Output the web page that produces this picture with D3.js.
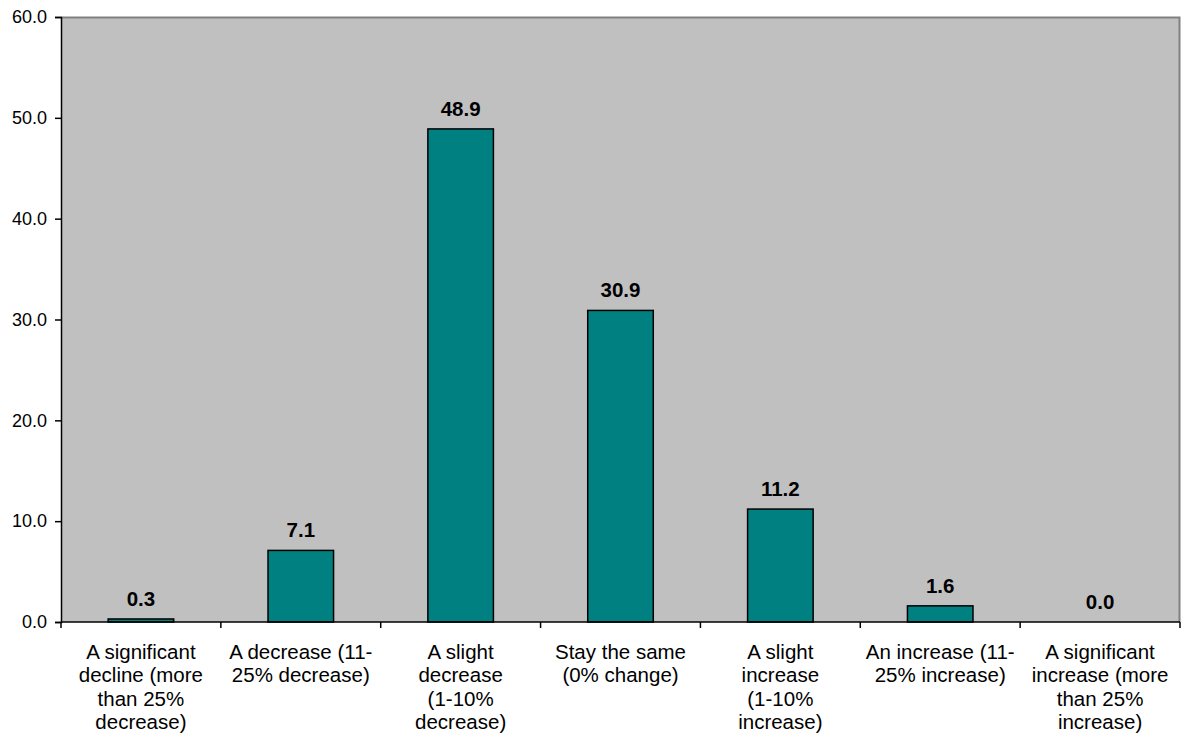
<!DOCTYPE html>
<html>
<head>
<meta charset="utf-8">
<script src="https://cdn.jsdelivr.net/npm/d3@7"></script>
<style>
  html, body { margin: 0; padding: 0; background: #ffffff; }
  svg { display: block; font-family: "Liberation Sans", Arial, sans-serif; }
</style>
</head>
<body>
<svg id="chart" width="1182" height="736"></svg>
<script>
// Expected change, percent of respondents
const categories = [
  "A significant decline (more than 25% decrease)",
  "A decrease (11-25% decrease)",
  "A slight decrease (1-10% decrease)",
  "Stay the same (0% change)",
  "A slight increase (1-10% increase)",
  "An increase (11-25% increase)",
  "A significant increase (more than 25% increase)"
];
const categoryLines = [
  ["A significant", "decline (more", "than 25%", "decrease)"],
  ["A decrease (11-", "25% decrease)"],
  ["A slight", "decrease", "(1-10%", "decrease)"],
  ["Stay the same", "(0% change)"],
  ["A slight", "increase", "(1-10%", "increase)"],
  ["An increase (11-", "25% increase)"],
  ["A significant", "increase (more", "than 25%", "increase)"]
];
const values = [0.3, 7.1, 48.9, 30.9, 11.2, 1.6, 0.0];
const yTicks = [0, 10, 20, 30, 40, 50, 60];

const svg = d3.select("#chart");
const plot = { left: 61, top: 17, right: 1180, bottom: 622 };

const x = d3.scaleBand()
  .domain(categories)
  .range([plot.left, plot.right])
  .paddingInner(0.59)
  .paddingOuter(0.295);

const xOuter = d3.scaleBand()
  .domain(categories)
  .range([plot.left, plot.right]);

const y = d3.scaleLinear()
  .domain([0, 60])
  .range([plot.bottom, plot.top]);

// plot background
svg.append("rect")
  .attr("x", plot.left).attr("y", plot.top)
  .attr("width", plot.right - plot.left)
  .attr("height", plot.bottom - plot.top)
  .attr("fill", "#c0c0c0");

// top and right frame
svg.append("path")
  .attr("d", `M${plot.left},${plot.top + 0.5}H${plot.right - 0.5}V${plot.bottom}`)
  .attr("fill", "none")
  .attr("stroke", "#808080")
  .attr("stroke-width", 2);

// bars
svg.append("g").selectAll("rect")
  .data(values)
  .join("rect")
  .attr("x", (d, i) => x(categories[i]))
  .attr("y", d => y(d))
  .attr("width", x.bandwidth())
  .attr("height", d => y(0) - y(d))
  .attr("fill", "#008080")
  .attr("stroke", "#000000")
  .attr("stroke-width", 1.5);

// value labels
svg.append("g").selectAll("text")
  .data(values)
  .join("text")
  .attr("x", (d, i) => x(categories[i]) + x.bandwidth() / 2)
  .attr("y", d => y(d) - 13)
  .attr("text-anchor", "middle")
  .attr("font-size", 20.5)
  .attr("font-weight", "bold")
  .attr("fill", "#000")
  .text(d => d.toFixed(1));

// y axis
const yAxis = d3.axisLeft(y)
  .tickValues(yTicks)
  .tickFormat(d3.format(".1f"))
  .tickSize(6)
  .tickPadding(8);
const gy = svg.append("g")
  .attr("transform", `translate(${plot.left},0)`)
  .call(yAxis);
gy.select(".domain").attr("stroke", "#000").attr("stroke-width", 1.5);
gy.selectAll(".tick line").attr("stroke", "#000").attr("stroke-width", 1.5);
gy.selectAll(".tick text")
  .attr("font-size", 18)
  .attr("font-family", "Liberation Sans, Arial, sans-serif")
  .attr("fill", "#000");

// x axis baseline with ticks at category boundaries
const boundaries = categories.map(c => xOuter(c)).concat([plot.right]);
const gx = svg.append("g");
gx.append("line")
  .attr("x1", plot.left).attr("x2", plot.right)
  .attr("y1", y(0)).attr("y2", y(0))
  .attr("stroke", "#000").attr("stroke-width", 1.5);
gx.selectAll("line.tk")
  .data(boundaries)
  .join("line")
  .attr("class", "tk")
  .attr("x1", d => d).attr("x2", d => d)
  .attr("y1", y(0)).attr("y2", y(0) + 6)
  .attr("stroke", "#000").attr("stroke-width", 1.5);

// category labels
const labels = svg.append("g").selectAll("text")
  .data(categories)
  .join("text")
  .attr("x", c => xOuter(c) + xOuter.bandwidth() / 2)
  .attr("y", 658.5)
  .attr("text-anchor", "middle")
  .attr("font-size", 20.5)
  .attr("fill", "#000");
labels.selectAll("tspan")
  .data((c, i) => categoryLines[i])
  .join("tspan")
  .attr("x", function () { return d3.select(this.parentNode).attr("x"); })
  .attr("dy", (d, j) => j === 0 ? 0 : 23.6)
  .text(d => d);
</script>
</body>
</html>
